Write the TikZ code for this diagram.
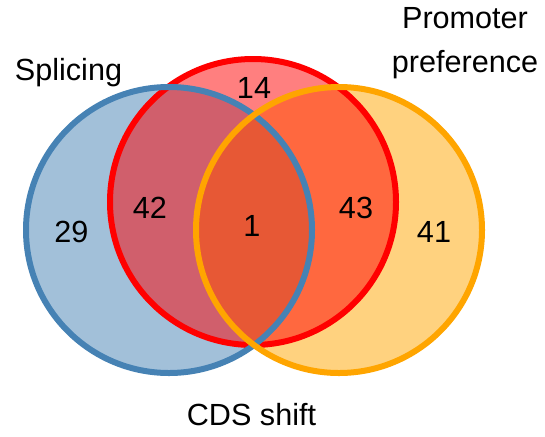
\documentclass[tikz,border=0pt]{standalone}
\usepackage{fontspec}
\setmainfont{Liberation Sans}
\usetikzlibrary{positioning}
\definecolor{VennBlue}{HTML}{4682B4}
\definecolor{VennRed}{HTML}{FF0000}
\definecolor{VennOrange}{HTML}{FFA500}
\tikzset{
  setfill/.style={fill=#1, fill opacity=0.5},
  setline/.style={draw=#1, line width=3pt},
  count/.style={anchor=base, inner sep=0pt},
}
\begin{document}
\begin{tikzpicture}[x=0.5pt, y=0.5pt, font=\fontsize{15.3}{22}\selectfont]
  \useasboundingbox (0,0) rectangle (545,436);
  \coordinate (spl) at (169,206);
  \coordinate (cds) at (253,234);
  \coordinate (pro) at (339,206);
  % shaded discs first, rims on top
  \fill[setfill=VennBlue] (spl) circle[radius=143];
  \fill[setfill=VennOrange] (pro) circle[radius=143];
  \fill[setfill=VennRed] (cds) circle[radius=143];
  \draw[setline=VennRed] (cds) circle[radius=143];
  \draw[setline=VennBlue] (spl) circle[radius=143];
  \draw[setline=VennOrange] (pro) circle[radius=143];
  % counts
  \node[count] (onlySpl) at (71.5,194) {29};
  \node[count] (splCds) at (150,218) {42};
  \node[count] (onlyCds) at (254,338) {14};
  \node[count] (allThree) at (252,200) {1};
  \node[count] (cdsPro) at (356,218) {43};
  \node[count] (onlyPro) at (434,194) {41};
  % set names
  \node[count] (splLabel) at (68.5,356) {Splicing};
  \node[count, align=center] (proLabel) at (465,364) {Promoter\\preference};
  \node[count] (cdsLabel) at (251.5,11) {CDS shift};
\end{tikzpicture}
\end{document}
